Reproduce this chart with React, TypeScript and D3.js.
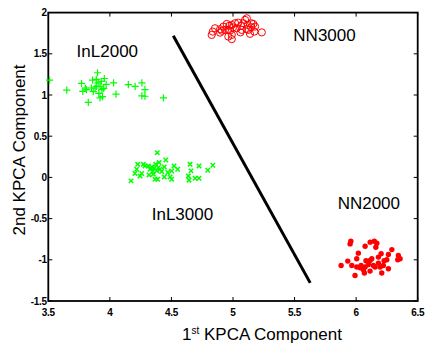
import { useEffect, useRef } from 'react';
import * as d3 from 'd3';

// data
const inl2000: [number, number][] = [
  [3.51, 1.18], [3.65, 1.06], [3.77, 1.14], [3.78, 1.045], [3.81, 1.065], [3.825, 0.91],
  [3.86, 1.18], [3.88, 1.085], [3.9, 1.27], [3.905, 1.146], [3.92, 1.105], [3.935, 1.065],
  [3.955, 1.2], [3.92, 0.965], [3.94, 0.98], [3.865, 1.04], [4.03, 1.146], [4.05, 1.01],
  [4.15, 1.125], [4.205, 1.105], [4.26, 1.146], [4.285, 1.065], [4.26, 0.99], [4.285, 0.985],
  [4.435, 0.965], [3.89, 1.19], [3.93, 1.165], [3.89, 1.105], [3.8, 1.085], [3.85, 1.085],
  [3.95, 1.08], [3.91, 1.02], [3.97, 1.13],
];

const inl3000: [number, number][] = [
  [4.172, -0.042], [4.204, 0.047], [4.218, 0.099], [4.226, 0.159], [4.245, 0.018], [4.259, 0.047],
  [4.272, 0.159], [4.286, 0.139], [4.312, 0.139], [4.326, 0.099], [4.318, 0.03], [4.34, 0.127],
  [4.353, 0.039], [4.361, 0.111], [4.372, 0.159], [4.381, 0.079], [4.385, 0.3], [4.394, 0.12],
  [4.407, 0.099], [4.367, -0.022], [4.389, -0.022], [4.421, 0.071], [4.442, 0.127], [4.454, 0.211],
  [4.442, 0.006], [4.47, 0.059], [4.489, 0.006], [4.502, -0.022], [4.502, 0.078], [4.521, 0.139],
  [4.551, 0.099], [4.637, 0.018], [4.643, -0.034], [4.651, 0.159], [4.659, 0.079], [4.692, -0.01],
  [4.724, -0.01], [4.724, 0.139], [4.795, 0.087], [4.836, 0.147], [4.4, 0.18], [4.35, 0.075],
];

const nn3000: [number, number][] = [
  [4.827, 1.729], [4.836, 1.769], [4.895, 1.757], [4.854, 1.81], [4.895, 1.798], [4.922, 1.83],
  [4.949, 1.862], [4.962, 1.79], [4.962, 1.709], [4.935, 1.79], [4.976, 1.781], [4.99, 1.85],
  [4.99, 1.729], [4.99, 1.678], [5.017, 1.871], [5.03, 1.81], [5.043, 1.878], [5.065, 1.838],
  [5.071, 1.79], [5.084, 1.871], [5.098, 1.911], [5.112, 1.931], [5.12, 1.85], [5.125, 1.79],
  [5.138, 1.742], [5.147, 1.822], [5.165, 1.862], [5.179, 1.83], [5.173, 1.769], [5.234, 1.76],
  [5.0, 1.82], [5.06, 1.76], [4.97, 1.84], [5.11, 1.8], [5.15, 1.87], [4.91, 1.78],
];

const nn2000: [number, number][] = [
  [5.957, -0.774], [5.951, -0.807], [6.073, -0.835], [6.114, -0.786], [6.148, -0.774], [6.168, -0.798],
  [6.16, -0.847], [6.29, -0.876], [6.018, -0.919], [6.005, -0.988], [5.932, -1.016], [5.878, -1.069],
  [5.965, -1.069], [6.005, -1.088], [6.04, -1.069], [6.073, -1.088], [6.1, -1.057], [6.113, -1.008],
  [6.127, -0.988], [6.181, -0.967], [6.203, -0.927], [6.262, -0.936], [6.343, -0.948], [6.357, -0.988],
  [6.338, -1.0], [6.249, -1.0], [6.181, -1.04], [6.221, -1.069], [6.262, -1.109], [6.14, -1.069],
  [6.154, -1.088], [6.059, -1.121], [6.113, -1.137], [6.067, -1.161], [5.991, -1.19], [6.208, -1.161],
  [6.032, -1.097], [6.195, -1.088], [6.227, -1.012], [6.08, -1.012],
];

const boundary: [number, number][] = [[4.515, 1.72], [5.627, -1.28]];

const xTicks = [3.5, 4, 4.5, 5, 5.5, 6, 6.5];
const yTicks = [-1.5, -1, -0.5, 0, 0.5, 1, 1.5, 2];

const labels = [
  { text: 'InL2000', x: 3.73, y: 1.46 },
  { text: 'NN3000', x: 5.49, y: 1.66 },
  { text: 'InL3000', x: 4.34, y: -0.52 },
  { text: 'NN2000', x: 5.85, y: -0.38 },
];

export default function App() {
  const svgRef = useRef<SVGSVGElement>(null);
  const width = 426;
  const height = 347;
  const margin = { top: 12.6, right: 8.3, bottom: 46, left: 48.3 };

  useEffect(() => {
    if (!svgRef.current) return;
    const svg = d3.select(svgRef.current);
    svg.selectAll('*').remove();

    const x = d3.scaleLinear().domain([3.5, 6.5]).range([margin.left, width - margin.right]);
    const y = d3.scaleLinear().domain([-1.5, 2]).range([height - margin.bottom, margin.top]);
    const font = "'Liberation Sans', Arial, sans-serif";
    const [x0, x1] = x.range();
    const [y0, y1] = y.range();

    // ticks on all four sides, pointing in
    const tickG = svg.append('g').attr('stroke', '#000').attr('stroke-width', 1);
    xTicks.forEach((t) => {
      tickG.append('line').attr('x1', x(t)).attr('x2', x(t)).attr('y1', y0).attr('y2', y0 - 4);
      tickG.append('line').attr('x1', x(t)).attr('x2', x(t)).attr('y1', y1).attr('y2', y1 + 4);
    });
    yTicks.forEach((t) => {
      tickG.append('line').attr('x1', x0).attr('x2', x0 + 4).attr('y1', y(t)).attr('y2', y(t));
      tickG.append('line').attr('x1', x1).attr('x2', x1 - 4).attr('y1', y(t)).attr('y2', y(t));
    });

    svg.append('rect')
      .attr('x', x0).attr('y', y1)
      .attr('width', x1 - x0).attr('height', y0 - y1)
      .attr('fill', 'none').attr('stroke', '#000').attr('stroke-width', 1.8);

    svg.append('g')
      .selectAll('text')
      .data(xTicks)
      .join('text')
      .attr('x', (d) => x(d))
      .attr('y', y0 + 14.5)
      .attr('text-anchor', 'middle')
      .style('font-family', font)
      .style('font-weight', 'bold')
      .style('font-size', '10px')
      .style('letter-spacing', '-0.3px')
      .text((d) => String(d));

    svg.append('g')
      .selectAll('text')
      .data(yTicks)
      .join('text')
      .attr('x', x0 - 1.5)
      .attr('y', (d) => y(d) + 3.5)
      .attr('text-anchor', 'end')
      .style('font-family', font)
      .style('font-weight', 'bold')
      .style('font-size', '10px')
      .style('letter-spacing', '-0.3px')
      .text((d) => String(d));

    // separating line
    svg.append('line')
      .attr('x1', x(boundary[0][0])).attr('y1', y(boundary[0][1]))
      .attr('x2', x(boundary[1][0])).attr('y2', y(boundary[1][1]))
      .attr('stroke', '#000').attr('stroke-width', 3);

    // InL2000: plus
    svg.append('g')
      .attr('stroke', '#00ff00').attr('stroke-width', 1.2)
      .selectAll('path')
      .data(inl2000)
      .join('path')
      .attr('d', (d) => {
        const cx = x(d[0]), cy = y(d[1]), r = 3.6;
        return `M${cx - r},${cy}H${cx + r}M${cx},${cy - r}V${cy + r}`;
      });

    // InL3000: x
    svg.append('g')
      .attr('stroke', '#00ff00').attr('stroke-width', 1.5)
      .selectAll('path')
      .data(inl3000)
      .join('path')
      .attr('d', (d) => {
        const cx = x(d[0]), cy = y(d[1]), r = 2.2;
        return `M${cx - r},${cy - r}L${cx + r},${cy + r}M${cx - r},${cy + r}L${cx + r},${cy - r}`;
      });

    // NN3000: open circles
    svg.append('g')
      .selectAll('circle')
      .data(nn3000)
      .join('circle')
      .attr('cx', (d) => x(d[0]))
      .attr('cy', (d) => y(d[1]))
      .attr('r', 3.6)
      .attr('fill', 'none')
      .attr('stroke', '#ff0000')
      .attr('stroke-width', 1);

    // NN2000: filled dots
    svg.append('g')
      .selectAll('circle')
      .data(nn2000)
      .join('circle')
      .attr('cx', (d) => x(d[0]))
      .attr('cy', (d) => y(d[1]))
      .attr('r', 2.7)
      .attr('fill', '#ff0000');

    svg.append('g')
      .selectAll('text')
      .data(labels)
      .join('text')
      .attr('x', (d) => x(d.x))
      .attr('y', (d) => y(d.y))
      .style('font-family', font)
      .style('font-size', '17px')
      .text((d) => d.text);

    const xl = svg.append('text')
      .attr('x', (x0 + x1) / 2 + 29)
      .attr('y', 340)
      .attr('text-anchor', 'middle')
      .style('font-family', font)
      .style('font-size', '17px');
    xl.append('tspan').text('1');
    xl.append('tspan').attr('dy', -6).style('font-size', '10px').text('st');
    xl.append('tspan').attr('dy', 6).text(' KPCA Component');

    svg.append('text')
      .attr('transform', `translate(25,150) rotate(-90)`)
      .attr('text-anchor', 'middle')
      .style('font-family', font)
      .style('font-size', '17px')
      .text('2nd KPCA Component');
  }, []);

  return (
    <svg
      ref={svgRef}
      width={width}
      height={height}
      style={{ position: 'absolute', left: 0, top: 0, background: '#fff' }}
    />
  );
}
